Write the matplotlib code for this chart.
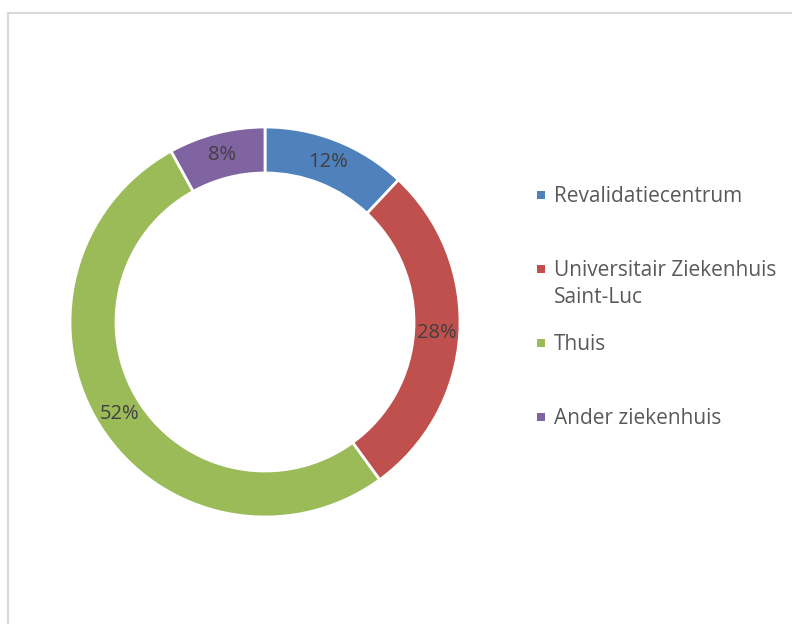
import matplotlib.pyplot as plt
from matplotlib.patches import Rectangle

plt.rcParams['font.family'] = ['Open Sans', 'DejaVu Sans']

# data
labels = ['Revalidatiecentrum', 'Universitair Ziekenhuis\nSaint-Luc', 'Thuis', 'Ander ziekenhuis']
values = [12, 28, 52, 8]
colors = ['#4F81BD', '#C0504D', '#9BBB59', '#8064A2']

W, H = 792, 624
fig = plt.figure(figsize=(W / 100, H / 100), dpi=100)
ax = fig.add_axes([0, 0, 1, 1])

# chart border (cut off at right and bottom)
ax.add_patch(Rectangle((7.5, -20), W + 20, H - 12 + 20 - 0.5, fill=False,
                       edgecolor='#D9D9D9', linewidth=1.5))

R = 195
width = 46
cx, cy = 265, H - 322
wedges, texts = ax.pie(values, colors=colors, startangle=90, counterclock=False,
                       radius=R, center=(cx, cy), frame=True,
                       labels=[f'{v}%' for v in values], labeldistance=(R - width / 2) / R,
                       wedgeprops=dict(width=width, edgecolor='white', linewidth=2),
                       textprops=dict(fontsize=14.5, color='#404040', ha='center', va='center'))
ax.set_xlim(0, W)
ax.set_ylim(0, H)
ax.set_aspect('equal')
ax.axis('off')

# legend
leg_y0 = H - 195
for i, (lab, col) in enumerate(zip(labels, colors)):
    y = leg_y0 - i * 74
    ax.add_patch(Rectangle((537, y - 4), 8, 8, facecolor=col, edgecolor='none'))
    for j, line in enumerate(lab.split('\n')):
        ax.text(554, y - 7 - j * 27, line, fontsize=15, color='#595959',
                va='baseline', ha='left')

fig.savefig('out.png', dpi=100)
